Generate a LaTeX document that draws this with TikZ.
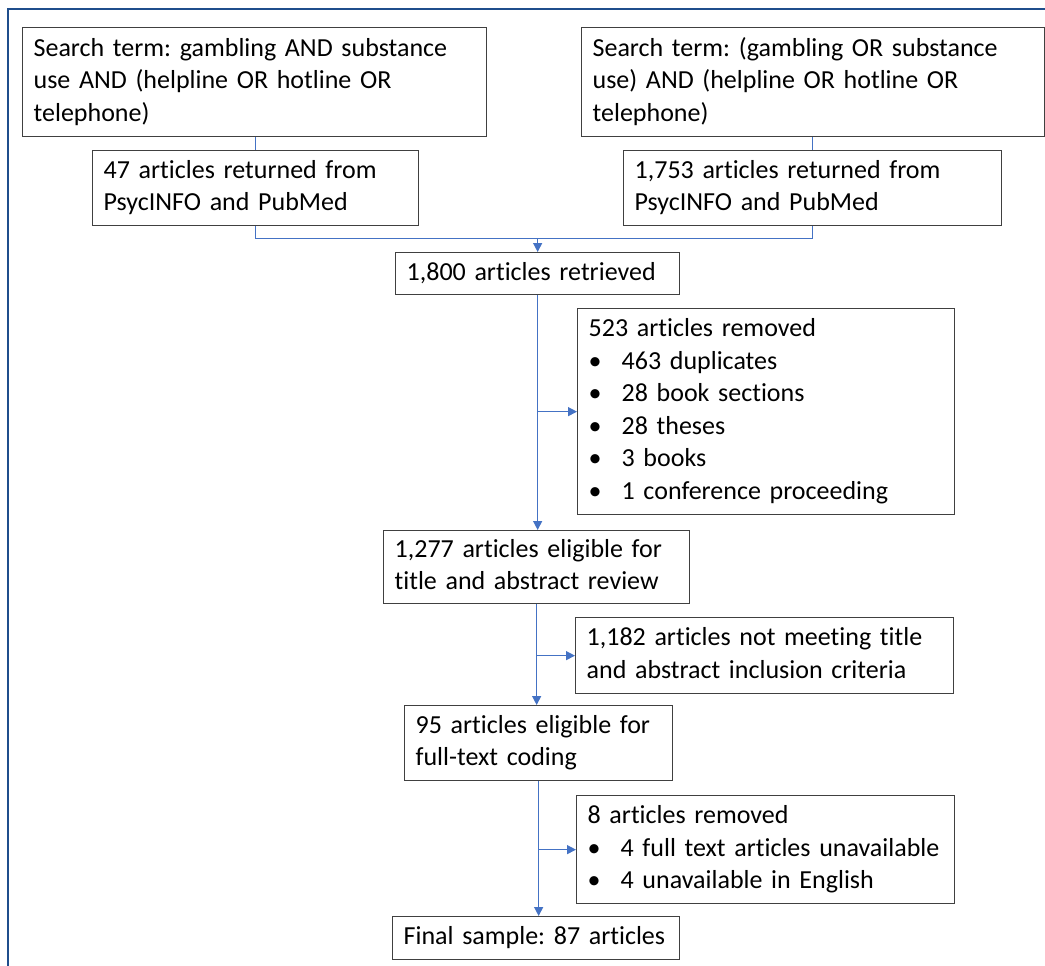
\documentclass[tikz,border=0pt]{standalone}
\usepackage{fontspec}
\setmainfont{Carlito}[Ligatures=NoCommon]
\usetikzlibrary{arrows.meta,calc}
\definecolor{frameblue}{HTML}{1F4E8C}
\definecolor{linkblue}{HTML}{4472C4}
\definecolor{boxgray}{HTML}{404040}
\newcommand{\bul}{\makebox[33pt][l]{•}}
\frenchspacing
\hyphenpenalty=10000
\exhyphenpenalty=10000
\begin{document}
\begin{tikzpicture}[x=1pt,y=-1pt,
  box/.style={draw=boxgray, line width=1.3pt, anchor=north west, align=left,
    inner xsep=11pt, inner ysep=0pt, text=black,
    font=\fontsize{26}{32.5}\selectfont},
  link/.style={draw=linkblue, line width=1.3pt},
  arr/.style={link, -{Triangle[length=9pt,width=9pt]}}]
\useasboundingbox[fill=white] (0,0) rectangle (1045,966);
\draw[frameblue, line width=2.5pt] (1045,9) -- (8,9) -- (8,966);

\node[box, text width=442pt, minimum height=109pt] (A) at (22,27)
  {\strut Search term: gambling AND substance\\\strut use AND (helpline OR hotline OR\\\strut telephone)};
\node[box, text width=441pt, minimum height=109pt] (B) at (581,27)
  {\strut Search term: (gambling OR substance\\\strut use) AND (helpline OR hotline OR\\\strut telephone)};
\node[box, text width=304pt, minimum height=75pt] (A2) at (92,150)
  {\strut 47 articles returned from\\\strut PsycINFO and PubMed};
\node[box, text width=356pt, minimum height=75pt] (B2) at (623,150)
  {\strut 1,753 articles returned from\\\strut PsycINFO and PubMed};
\node[box, text width=262pt, minimum height=42pt] (C) at (395,252)
  {\strut 1,800 articles retrieved};
\node[box, text width=355pt, minimum height=206pt] (D) at (577,308)
  {\strut 523 articles removed\\\strut\bul 463 duplicates\\\strut\bul 28 book sections\\\strut\bul 28 theses\\\strut\bul 3 books\\\strut\bul 1 conference proceeding};
\node[box, text width=284pt, minimum height=73pt] (E) at (383,530)
  {\strut 1,277 articles eligible for\\\strut title and abstract review};
\node[box, text width=356pt, minimum height=76pt] (F2) at (575,617)
  {\strut 1,182 articles not meeting title\\\strut and abstract inclusion criteria};
\node[box, text width=246pt, minimum height=75pt] (F) at (404,705)
  {\strut 95 articles eligible for\\\strut full-text coding};
\node[box, text width=356pt, minimum height=108pt] (H) at (576,795)
  {\strut 8 articles removed\\\strut\bul\mbox{4 full text articles unavailable}\\\strut\bul 4 unavailable in English};
\node[box, text width=265pt, minimum height=43pt] (G) at (392,916)
  {\strut\mbox{Final sample: 87 articles}};

\coordinate (join) at ($(A2.south)+(0,12)$);
\draw[link] (A2.north |- A.south) -- (A2.north);
\draw[link] (B2.north |- B.south) -- (B2.north);
\draw[link] (A2.south) -- (join) -| (B2.south);
\draw[arr] (join -| C.north) -- (C.north);

\draw[arr] (C.south) -- (C.south |- E.north);
\draw[arr] (D.west -| C.south) -- (D.west);

\draw[arr] (E.south) -- (E.south |- F.north);
\draw[arr] (F2.west -| E.south) -- (F2.west);

\draw[arr] (F.south) -- (F.south |- G.north);
\draw[arr] (H.west -| F.south) -- (H.west);
\end{tikzpicture}
\end{document}
